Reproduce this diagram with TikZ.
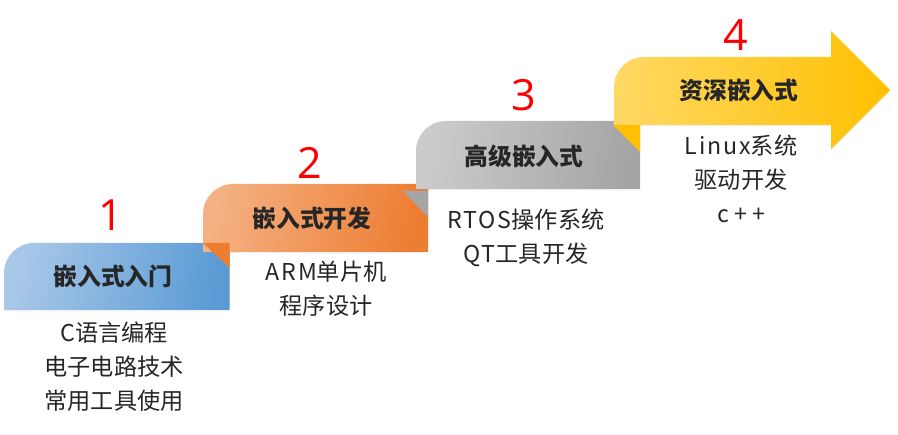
\documentclass[tikz,border=0pt]{standalone}
\usepackage{xcolor}
\usepackage{fontspec}
\setmainfont{Noto Sans CJK SC}
\newfontfamily\numfont{Open Sans}
\newfontfamily\latinfont[LetterSpace=8]{Noto Sans CJK SC}
\usetikzlibrary{shadows}
\definecolor{blueLight}{RGB}{168, 200, 232}
\definecolor{blueDark}{RGB}{91, 155, 213}
\definecolor{orangeLight}{RGB}{244, 177, 131}
\definecolor{orangeDark}{RGB}{237, 125, 49}
\definecolor{grayLight}{RGB}{203, 203, 203}
\definecolor{grayDark}{RGB}{165, 165, 165}
\definecolor{goldLight}{RGB}{255, 217, 102}
\definecolor{goldDark}{RGB}{255, 192, 0}
\definecolor{textColor}{RGB}{38, 38, 38}
\tikzset{
    stepband/.style={left color=#1Light, right color=#1Dark, shading angle=78,
        drop shadow={opacity=0.12, shadow xshift=0pt, shadow yshift=-1.5pt}},
    foldmark/.style={fill=#1Dark},
    titletext/.style={font=\fontsize{23.8}{28}\selectfont\bfseries, text=black!85, inner sep=0pt},
    bodytext/.style={font=\fontsize{23.2}{34}\selectfont, text=textColor, align=center, inner sep=0pt},
    numtext/.style={font=\numfont\fontsize{43}{46}\selectfont, text=red, inner sep=0pt}
}
\begin{document}
\begin{tikzpicture}[x=1pt,y=-1pt]
    \useasboundingbox (0,0) rectangle (898,435);

    % Step bands, lowest first
    \path[stepband=blue] (4,310) [rounded corners=30pt] -- (4,243) [sharp corners] -- (229.5,243) -- (229.5,310) -- cycle;
    \path[stepband=orange] (203,252) [rounded corners=30pt] -- (203,184) [sharp corners] -- (428,184) -- (428,252) -- cycle;
    \path[stepband=gray] (416,189) [rounded corners=30pt] -- (416,121) [sharp corners] -- (640,121) -- (640,189) -- cycle;
    \path[left color=goldLight, middle color=goldDark!70!goldLight, right color=goldDark, drop shadow={opacity=0.12, shadow xshift=0pt, shadow yshift=-1.5pt}]
        (614,125) [rounded corners=30pt] -- (614,57) [sharp corners] -- (831,57) -- (831,31) -- (890,90) -- (831,149) -- (831,125) -- cycle;

    % Folded corners
    \fill[foldmark=orange] (203,243) -- (229.5,243) -- (229.5,268) -- cycle;
    \fill[foldmark=gray] (403,191) -- (428,191) -- (428,217) -- cycle;
    \fill[foldmark=gold] (613,125) -- (640,125) -- (640,152) -- cycle;

    % Titles
    \node[titletext] (titleA) at (113,276) {嵌入式入门};
    \node[titletext] (titleB) at (312,218) {嵌入式开发};
    \node[titletext] (titleC) at (524,156) {高级嵌入式};
    \node[titletext] (titleD) at (739,90) {资深嵌入式};

    % Item lists
    \node[bodytext] (itemsA) at (114,367) {{\latinfont C}语言编程\\电子电路技术\\常用工具使用};
    \node[bodytext] (itemsB) at (326,289) {{\latinfont ARM}单片机\\程序设计};
    \node[bodytext] (itemsC) at (526,238) {{\latinfont RTOS}操作系统\\{\latinfont QT}工具开发};
    \node[bodytext] (itemsD) at (741,179) {{\latinfont Linux}系统\\驱动开发\\c{ }+{ }+};

    % Step numbers
    \node[numtext] (numA) at (111,215) {1};
    \node[numtext] (numB) at (310,163) {2};
    \node[numtext] (numC) at (524,95) {3};
    \node[numtext] (numD) at (736,35) {4};
\end{tikzpicture}
\end{document}
